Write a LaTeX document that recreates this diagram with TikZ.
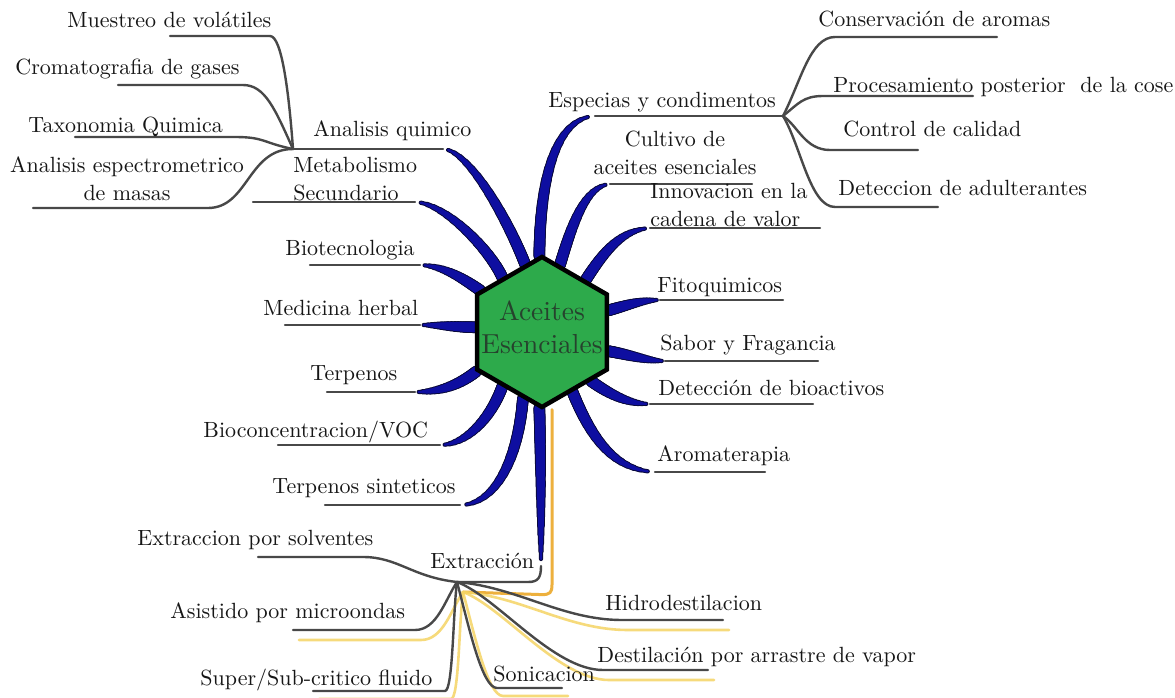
\documentclass[tikz,border=0pt]{standalone}
\usetikzlibrary{shapes.geometric}
\pgfdeclarelayer{back}
\pgfdeclarelayer{bg}
\pgfsetlayers{back,bg,main}
\definecolor{brblue}{RGB}{14,14,160}
\definecolor{bredge}{RGB}{10,10,60}
\definecolor{lineg}{RGB}{72,72,72}
\definecolor{hexg}{RGB}{45,170,75}
\definecolor{hext}{RGB}{38,66,45}
\definecolor{txt}{RGB}{22,22,22}
\definecolor{yel}{RGB}{245,212,100}
\definecolor{ora}{RGB}{236,168,40}
\def\xyp(#1,#2){\pgfpointxy{#1}{#2}}
% tapered branch: prefixes [0,t] of the curve, thinner ones first
\newcommand\bluebranch[4]{%
  \begin{scope}%
  \foreach \k in {16,15,...,1}{%
    \pgfmathsetmacro\bbtb{\k/16}%
    \pgfmathsetmacro\bbw{3.2+8.3*(1-((\k-1)/15)^2)}%
    \pgfsetlinewidth{\bbw pt}\pgfsetroundcap
    \pgfsetstrokecolor{bredge}%
    \pgfpathcurvebetweentime{0}{\bbtb}{\pgfpointanchor{#1}{center}}{\xyp#2}{\xyp#3}{\pgfpointanchor{#4}{center}}%
    \pgfusepath{stroke}}%
  \foreach \k in {16,15,...,1}{%
    \pgfmathsetmacro\bbtb{\k/16}%
    \pgfmathsetmacro\bbw{1.2+8.3*(1-((\k-1)/15)^2)}%
    \pgfsetlinewidth{\bbw pt}\pgfsetroundcap
    \pgfsetstrokecolor{brblue}%
    \pgfpathcurvebetweentime{0}{\bbtb}{\pgfpointanchor{#1}{center}}{\xyp#2}{\xyp#3}{\pgfpointanchor{#4}{center}}%
    \pgfusepath{stroke}}%
  \end{scope}%
}
\tikzset{
  lbl/.style={scale=2.2, inner sep=0pt, text=txt, anchor=base west},
  lbl2/.style={scale=2.2, inner sep=0pt, text=txt, font=\fontsize{10}{12.6}\selectfont},
  gline/.style={draw=lineg, line width=2.4pt, line cap=round, line join=round},
  yline/.style={draw=yel, line width=2.6pt, line cap=round, opacity=0.85},
  hexshape/.style={regular polygon, regular polygon sides=6, shape border rotate=30,
    minimum size=150pt, inner sep=0pt, draw=black, line width=4.5pt, fill=hexg},
}
\begin{document}
\begin{tikzpicture}[x=1pt,y=-1pt]
\begin{pgfonlayer}{back}
\fill[white] (0,0) rectangle (1175,698);
\end{pgfonlayer}
\useasboundingbox (0,0) rectangle (1175,698);

% central node
\node[hexshape] (hex) at (542,332) {};
\node[scale=2.75, text=hext, align=center, inner sep=0pt] (hextxt) at (542,327) {Aceites\\Esenciales};

% labels
\node[lbl] (mu) at (67,28) {Muestreo de volátiles};
\node[lbl] (cr) at (15,75) {Cromatografia de gases};
\node[lbl] (ta) at (28,132) {Taxonomia Quimica};
\node[lbl2, align=center] (es) at (127,179) {Analisis espectrometrico\\de masas};
\node[lbl] (aq) at (313,137) {Analisis quimico};
\node[lbl2, align=left, anchor=west] (me) at (293,179) {Metabolismo\\Secundario};
\node[lbl] (bi) at (285,255) {Biotecnologia};
\node[lbl] (md) at (263,315) {Medicina herbal};
\node[lbl] (te) at (310,380) {Terpenos};
\node[lbl] (bc) at (203,437) {Bioconcentracion/VOC};
\node[lbl] (ts) at (272,493) {Terpenos sinteticos};
\node[lbl] (so) at (137,545) {Extraccion por solventes};
\node[lbl] (ex) at (430,568) {Extracción};
\node[lbl] (as) at (170,618) {Asistido por microondas};
\node[lbl] (su) at (200,685) {Super/Sub-critico fluido};
\node[lbl] (sn) at (493,681) {Sonicacion};
\node[lbl] (hi) at (605,610) {Hidrodestilacion};
\node[lbl] (dv) at (597,662) {Destilación por arrastre de vapor};
\node[lbl] (sp) at (548,108) {Especias y condimentos};
\node[lbl2, align=center] (cu) at (675,153) {Cultivo de\\aceites esenciales};
\node[lbl2, align=left, anchor=west] (in) at (650,205) {Innovacion en la\\cadena de valor};
\node[lbl] (fi) at (657,292) {Fitoquimicos};
\node[lbl] (sa) at (660,350) {Sabor y Fragancia};
\node[lbl] (de) at (658,395) {Detección de bioactivos};
\node[lbl] (ar) at (657,461) {Aromaterapia};
\node[lbl] (co) at (818,27) {Conservación de aromas};
\node[lbl] (pr) at (833,93) {Procesamiento posterior~~de la cose};
\node[lbl] (cc) at (843,137) {Control de calidad};
\node[lbl] (da) at (838,195) {Deteccion de adulterantes};

% attach points on the hexagon
\coordinate (aqh) at (hex.104);
\coordinate (meh) at (hex.126);
\coordinate (bih) at (hex.146);
\coordinate (mdh) at (hex.176);
\coordinate (teh) at (hex.211);
\coordinate (bch) at (hex.234);
\coordinate (tsh) at (hex.254);
\coordinate (exh) at (hex.268);
\coordinate (sph) at (hex.92);
\coordinate (cuh) at (hex.75);
\coordinate (inh) at (hex.50);
\coordinate (fih) at (hex.18);
\coordinate (sah) at (hex.344);
\coordinate (deh) at (hex.315);
\coordinate (arh) at (hex.297);

% branch points and underline ends
\coordinate (J1) at (293,149);  \coordinate (aqb) at (443,149);
\coordinate (mu0) at (170,36);  \coordinate (cr0) at (118,85);
\coordinate (ta0) at (75,137);  \coordinate (es0) at (33,208);
\coordinate (me0) at (253,202); \coordinate (meb) at (415,202);
\coordinate (bi0) at (310,265); \coordinate (bib) at (420,265);
\coordinate (md0) at (285,325); \coordinate (mdb) at (420,325);
\coordinate (te0) at (327,392); \coordinate (teb) at (415,392);
\coordinate (bc0) at (278,445); \coordinate (bcb) at (440,445);
\coordinate (ts0) at (325,505); \coordinate (tsb) at (460,505);
\coordinate (J2) at (783,116);  \coordinate (spb) at (595,116);
\coordinate (co0) at (997,37);  \coordinate (pr0) at (973,96);
\coordinate (cc0) at (918,150); \coordinate (da0) at (938,207);
\coordinate (cub) at (610,184); \coordinate (cu0) at (752,184);
\coordinate (inb) at (650,228); \coordinate (in0) at (820,228);
\coordinate (fib) at (660,300); \coordinate (fi0) at (783,300);
\coordinate (sab) at (665,361); \coordinate (sa0) at (818,361);
\coordinate (deb) at (650,404); \coordinate (de0) at (813,404);
\coordinate (arb) at (655,472); \coordinate (ar0) at (765,472);
\coordinate (exb) at (541,566); \coordinate (J3) at (457,582);
\coordinate (so0) at (258,557); \coordinate (as0) at (293,630);
\coordinate (su0) at (313,691); \coordinate (sn0) at (562,688);
\coordinate (hi0) at (723,620); \coordinate (dv0) at (708,670);

\begin{pgfonlayer}{bg}
% yellow duplicate of the extraction subtree
\draw[draw=ora, line width=3pt, line cap=round, opacity=0.9]
  ([xshift=10pt]hex.south) -- ++(0,175) .. controls +(0,8) and +(8,0) .. ++(-10,10) -- ([shift={(6,10)}]J3);
\draw[yline] ([shift={(6,10)}]as0) -- ++(122,0) .. controls +(22,0) and +(-12,18) .. ([shift={(6,10)}]J3);
\draw[yline] ([shift={(6,8)}]su0) -- ++(132,0) .. controls +(8,0) and +(-4,30) .. ([shift={(6,10)}]J3);
\draw[yline] ([shift={(6,10)}]J3) .. controls +(12,45) and +(-15,0) .. ++(40,104) -- ([shift={(6,8)}]sn0);
\draw[yline] ([shift={(6,10)}]J3) .. controls +(60,5) and +(-60,0) .. ++(165,38) -- ([shift={(6,10)}]hi0);
\draw[yline] ([shift={(6,10)}]J3) .. controls +(40,15) and +(-50,0) .. ++(146,88) -- ([shift={(6,10)}]dv0);

% grey connectors
\draw[gline] (mu0) -- ++(100,0) .. controls +(12,0) and +(-4,-55) .. (J1);
\draw[gline] (cr0) -- ++(125,0) .. controls +(22,0) and +(-18,-40) .. (J1);
\draw[gline] (ta0) -- ++(160,0) .. controls +(30,0) and +(-30,-6) .. (J1);
\draw[gline] (es0) -- ++(175,0) .. controls +(40,0) and +(-45,0) .. (J1);
\draw[gline] (J1) -- (aqb);
\draw[gline] (me0) -- (meb);
\draw[gline] (bi0) -- (bib);
\draw[gline] (md0) -- (mdb);
\draw[gline] (te0) -- (teb);
\draw[gline] (bc0) -- (bcb);
\draw[gline] (ts0) -- (tsb);
\draw[gline] (spb) -- (J2);
\draw[gline] (J2) .. controls +(18,-35) and +(-25,0) .. ++(52,-79) -- (co0);
\draw[gline] (J2) .. controls +(15,-12) and +(-20,0) .. ++(40,-20) -- (pr0);
\draw[gline] (J2) .. controls +(15,10) and +(-25,0) .. ++(47,34) -- (cc0);
\draw[gline] (J2) .. controls +(18,30) and +(-25,0) .. ++(52,91) -- (da0);
\draw[gline] (cub) -- (cu0);
\draw[gline] (inb) -- (in0);
\draw[gline] (fib) -- (fi0);
\draw[gline] (sab) -- (sa0);
\draw[gline] (deb) -- (de0);
\draw[gline] (arb) -- (ar0);
\draw[gline] (exb) .. controls +(0,12) and +(10,0) .. ++(-13,16) -- (J3);
\draw[gline] (so0) -- ++(105,0) .. controls +(35,0) and +(-45,-5) .. (J3);
\draw[gline] (as0) -- ++(122,0) .. controls +(22,0) and +(-12,18) .. (J3);
\draw[gline] (su0) -- ++(132,0) .. controls +(8,0) and +(-4,30) .. (J3);
\draw[gline] (J3) .. controls +(12,45) and +(-15,0) .. ++(40,106) -- (sn0);
\draw[gline] (J3) .. controls +(60,5) and +(-60,0) .. ++(165,38) -- (hi0);
\draw[gline] (J3) .. controls +(40,15) and +(-50,0) .. ++(146,88) -- (dv0);

% blue tapered main branches
\bluebranch{aqh}{(510,225)}{(470,150)}{aqb}
\bluebranch{meh}{(490,250)}{(445,203)}{meb}
\bluebranch{bih}{(465,280)}{(445,266)}{bib}
\bluebranch{mdh}{(455,327)}{(440,325)}{mdb}
\bluebranch{teh}{(455,388)}{(435,392)}{teb}
\bluebranch{bch}{(490,420)}{(465,445)}{bcb}
\bluebranch{tsh}{(518,460)}{(495,505)}{tsb}
\bluebranch{exh}{(541,470)}{(541,530)}{exb}
\bluebranch{sph}{(540,180)}{(555,118)}{spb}
\bluebranch{cuh}{(572,225)}{(585,186)}{cub}
\bluebranch{inh}{(605,250)}{(622,230)}{inb}
\bluebranch{fih}{(628,305)}{(642,300)}{fib}
\bluebranch{sah}{(630,355)}{(648,361)}{sab}
\bluebranch{deh}{(612,396)}{(630,404)}{deb}
\bluebranch{arh}{(592,440)}{(615,470)}{arb}
\end{pgfonlayer}
\end{tikzpicture}
\end{document}
